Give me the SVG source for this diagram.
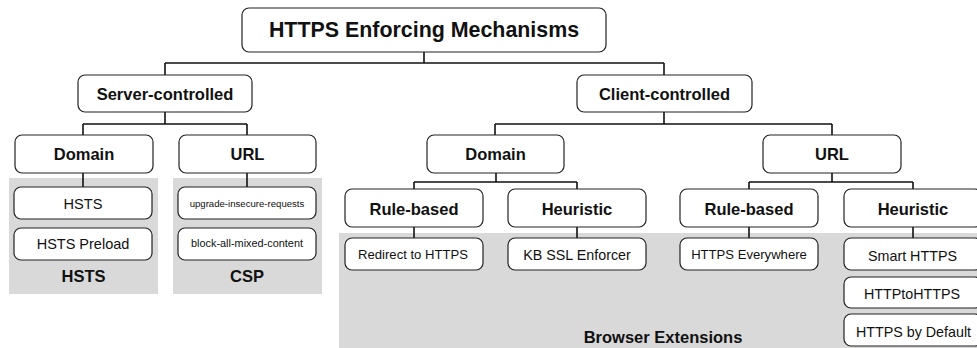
<svg xmlns="http://www.w3.org/2000/svg" width="977" height="348" viewBox="0 0 977 348">
<style>
.bx{fill:#fff;stroke:#222;stroke-width:1.2}
.gr{fill:#d9d9d9;stroke:none}
.ln{fill:none;stroke:#111;stroke-width:1.6}
text{font-family:"Liberation Sans",Arial,sans-serif;fill:#111;text-anchor:middle}
.h{font-weight:bold;font-size:16.5px}
.t{font-size:14.3px}
</style>
<rect width="977" height="348" fill="#fff"/>
<g id="groups">
<rect class="gr" x="9" y="178" width="149" height="116"/>
<rect class="gr" x="173" y="178" width="149" height="116"/>
<rect class="gr" x="339" y="233" width="640" height="116"/>
<text class="h" x="83.5" y="282">HSTS</text>
<text class="h" x="247" y="282">CSP</text>
<text class="h" x="663" y="343">Browser Extensions</text>
</g>
<g id="connectors">
<path class="ln" d="M424,52V63M165,63H664M165,63V75M664,63V75"/>
<path class="ln" d="M165,112V124M83,124H247M83,124V135M247,124V135"/>
<path class="ln" d="M664,112V124M495,124H832M495,124V135M832,124V135"/>
<path class="ln" d="M83,173V187M247,173V187"/>
<path class="ln" d="M496,173V182M414,182H577M414,182V189M577,182V189"/>
<path class="ln" d="M832,173V182M749,182H913M749,182V189M913,182V189"/>
<path class="ln" d="M414,227V238M577,227V238M749,227V238M913,227V238"/>
</g>
<g id="root"><rect class="bx" x="242" y="8" width="364" height="44" rx="7"/><text x="424" y="37" style="font-weight:bold;font-size:21.4px">HTTPS Enforcing Mechanisms</text></g>
<g id="server"><rect class="bx" x="78" y="75" width="174" height="37" rx="7"/><text class="h" x="165" y="100">Server-controlled</text></g>
<g id="client"><rect class="bx" x="577" y="75" width="175" height="37" rx="7"/><text class="h" x="664.5" y="100">Client-controlled</text></g>
<g id="s-domain"><rect class="bx" x="15" y="135" width="138" height="38" rx="7"/><text class="h" x="84" y="160">Domain</text></g>
<g id="s-url"><rect class="bx" x="179" y="135" width="137" height="38" rx="7"/><text class="h" x="247.5" y="160">URL</text></g>
<g id="c-domain"><rect class="bx" x="427" y="135" width="137" height="38" rx="7"/><text class="h" x="495.5" y="160">Domain</text></g>
<g id="c-url"><rect class="bx" x="763" y="135" width="138" height="38" rx="7"/><text class="h" x="832" y="160">URL</text></g>
<g id="hsts"><rect class="bx" x="14" y="187" width="138" height="32" rx="7"/><text class="t" x="83" y="209" style="font-size:14.6px">HSTS</text></g>
<g id="hsts-preload"><rect class="bx" x="14" y="228" width="138" height="32" rx="7"/><text class="t" x="83" y="249" style="font-size:14.5px">HSTS Preload</text></g>
<g id="upgrade"><rect class="bx" x="178" y="187" width="138" height="32" rx="7"/><text x="247" y="206.5" style="font-size:9.6px">upgrade-insecure-requests</text></g>
<g id="block"><rect class="bx" x="178" y="228" width="138" height="32" rx="7"/><text x="247" y="247" style="font-size:10.9px">block-all-mixed-content</text></g>
<g id="cd-rule"><rect class="bx" x="345" y="189" width="138" height="38" rx="7"/><text class="h" x="414" y="215">Rule-based</text></g>
<g id="cd-heur"><rect class="bx" x="508" y="189" width="138" height="38" rx="7"/><text class="h" x="577" y="215">Heuristic</text></g>
<g id="cu-rule"><rect class="bx" x="680" y="189" width="138" height="38" rx="7"/><text class="h" x="749" y="215">Rule-based</text></g>
<g id="cu-heur"><rect class="bx" x="844" y="189" width="138" height="38" rx="7"/><text class="h" x="913" y="215">Heuristic</text></g>
<g id="redirect"><rect class="bx" x="345" y="238" width="138" height="32" rx="7"/><text x="413" y="259" style="font-size:13.1px">Redirect to HTTPS</text></g>
<g id="kb"><rect class="bx" x="508" y="238" width="138" height="32" rx="7"/><text class="t" x="577" y="260">KB SSL Enforcer</text></g>
<g id="everywhere"><rect class="bx" x="680" y="238" width="138" height="32" rx="7"/><text x="749" y="259" style="font-size:13.1px">HTTPS Everywhere</text></g>
<g id="smart"><rect class="bx" x="844" y="238" width="138" height="32" rx="7"/><text class="t" x="912.5" y="260.5">Smart HTTPS</text></g>
<g id="httptohttps"><rect class="bx" x="844" y="277" width="138" height="31" rx="7"/><text class="t" x="912" y="299">HTTPtoHTTPS</text></g>
<g id="bydefault"><rect class="bx" x="844" y="314" width="138" height="32" rx="7"/><text class="t" x="913.5" y="337">HTTPS by Default</text></g>
</svg>
